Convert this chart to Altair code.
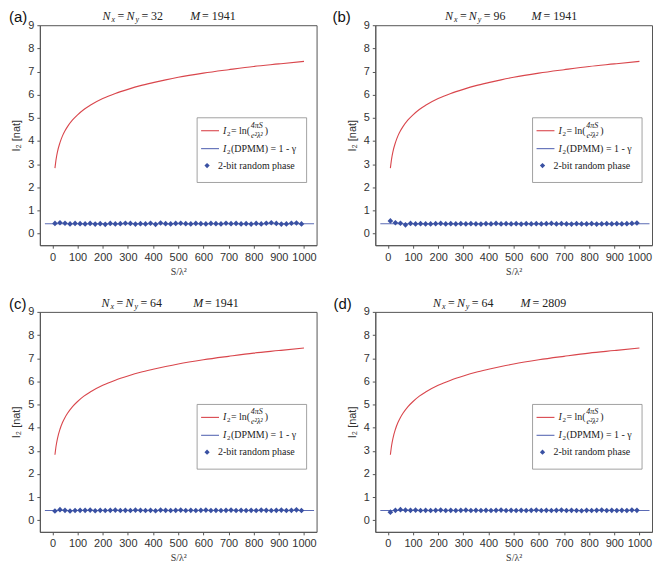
import altair as alt
import pandas as pd

# ---------------- data ----------------
S_CURVE = [10, 15, 20, 30, 40, 50, 60, 80, 100, 125, 150, 200, 250, 300, 350,
           400, 450, 500, 600, 700, 800, 900, 1000]
I2_CURVE = [2.83, 3.24, 3.53, 3.93, 4.22, 4.44, 4.62, 4.91, 5.13, 5.36, 5.54,
            5.83, 6.05, 6.23, 6.39, 6.52, 6.64, 6.75, 6.93, 7.08, 7.22, 7.33, 7.44]

DPMM_LEVEL = 0.4228
DPMM_SPAN = [-30, 1040]

S_PTS = list(range(10, 1000, 20))

PTS_A = [0.44, 0.47, 0.45, 0.42, 0.44, 0.43, 0.42, 0.44, 0.41, 0.43,
         0.40, 0.44, 0.42, 0.43, 0.45, 0.44, 0.41, 0.43, 0.42, 0.45,
         0.40, 0.46, 0.43, 0.42, 0.44, 0.45, 0.43, 0.42, 0.44, 0.43,
         0.42, 0.44, 0.43, 0.42, 0.45, 0.43, 0.44, 0.42, 0.43, 0.41,
         0.44, 0.42, 0.45, 0.47, 0.44, 0.41, 0.42, 0.45, 0.46, 0.42]
PTS_B = [0.55, 0.47, 0.45, 0.38, 0.44, 0.42, 0.43, 0.42, 0.42, 0.43,
         0.44, 0.42, 0.43, 0.42, 0.43, 0.42, 0.43, 0.42, 0.41, 0.43,
         0.42, 0.44, 0.42, 0.43, 0.42, 0.43, 0.41, 0.43, 0.42, 0.43,
         0.42, 0.43, 0.44, 0.42, 0.43, 0.42, 0.41, 0.43, 0.42, 0.42,
         0.43, 0.41, 0.42, 0.43, 0.42, 0.43, 0.42, 0.43, 0.44, 0.46]
PTS_C = [0.40, 0.46, 0.43, 0.40, 0.42, 0.43, 0.43, 0.44, 0.41, 0.43,
         0.42, 0.43, 0.44, 0.42, 0.43, 0.42, 0.44, 0.43, 0.42, 0.43,
         0.41, 0.44, 0.43, 0.42, 0.43, 0.44, 0.42, 0.43, 0.42, 0.43,
         0.44, 0.42, 0.43, 0.42, 0.43, 0.44, 0.42, 0.43, 0.42, 0.43,
         0.42, 0.44, 0.43, 0.42, 0.43, 0.44, 0.42, 0.43, 0.45, 0.42]
PTS_D = [0.35, 0.43, 0.46, 0.44, 0.43, 0.44, 0.42, 0.43, 0.42, 0.43,
         0.44, 0.42, 0.43, 0.42, 0.43, 0.44, 0.42, 0.43, 0.42, 0.43,
         0.42, 0.43, 0.44, 0.42, 0.43, 0.42, 0.43, 0.42, 0.43, 0.44,
         0.42, 0.43, 0.42, 0.43, 0.44, 0.42, 0.43, 0.42, 0.41, 0.43,
         0.42, 0.43, 0.44, 0.42, 0.43, 0.42, 0.43, 0.42, 0.44, 0.43]

PANEL_LABELS = ["(a)", "(b)", "(c)", "(d)"]
NXY = ["32", "96", "64", "64"]
M_VALUES = ["1941", "1941", "1941", "2809"]
POINTS = [PTS_A, PTS_B, PTS_C, PTS_D]

X_TICKS = list(range(0, 1001, 100))
Y_TICKS = list(range(0, 10))

# ---------------- style ----------------
W, H = 278, 221
RED = "#d9464c"
LINE_BLUE = "#5b6bb5"
PT_BLUE = "#3a51a3"
SERIF = "Liberation Serif"
SANS = "Liberation Sans"

TITLE_X = [63, 70, 62, 58]
M_X = [151, 157, 154, 146]
LABEL_X = [-31, -43, -31, -42]

ONE = pd.DataFrame({"a": [0]})


def txt(items, align="left", **props):
    layers = []
    for px, py, t in items:
        layers.append(
            alt.Chart(ONE).mark_text(align=align, baseline="middle", text=t, **props)
            .encode(x=alt.value(px), y=alt.value(py))
        )
    return layers


def panel(i):
    xs = alt.Scale(domain=[-50, 1050], nice=False, zero=False)
    ys = alt.Scale(domain=[-0.5, 9], nice=False, zero=False)
    xax = alt.Axis(values=X_TICKS, format="d", title="S/λ²", titleFont=SERIF,
                   titleFontSize=10, titleFontWeight="normal", titlePadding=4,
                   labelPadding=3, labelOverlap=False)
    yax = alt.Axis(values=Y_TICKS, format="d", title="I₂ [nat]", titleFont=SANS,
                   titleFontSize=11, titleFontWeight="normal", titlePadding=6,
                   labelPadding=3, labelOverlap=False)

    X = alt.X("S:Q", scale=xs, axis=xax)
    Y = alt.Y("I2:Q", scale=ys, axis=yax)

    curve = alt.Chart(pd.DataFrame({"S": S_CURVE, "I2": I2_CURVE})).mark_line(
        color=RED, strokeWidth=1.1, interpolate="monotone"
    ).encode(x=X, y=Y)

    rule = alt.Chart(pd.DataFrame({"S": [DPMM_SPAN[0]], "S2": [DPMM_SPAN[1]],
                                   "I2": [DPMM_LEVEL]})).mark_rule(
        color=LINE_BLUE, strokeWidth=1.1
    ).encode(x=X, x2="S2:Q", y=Y)

    pts = alt.Chart(pd.DataFrame({"S": S_PTS, "I2": POINTS[i]})).mark_point(
        shape="diamond", filled=True, size=32, color=PT_BLUE, opacity=1
    ).encode(x=X, y=Y)

    # legend
    bx0, bx1, by0, by1 = 158, 268, 93, 158
    box = alt.Chart(ONE).mark_rect(
        fill="white", stroke="#8a8a8a", strokeWidth=0.8
    ).encode(x=alt.value(bx0), x2=alt.value(bx1), y=alt.value(by0), y2=alt.value(by1))
    r1, r2, r3 = 106, 124, 141
    red_s = alt.Chart(ONE).mark_rule(color=RED, strokeWidth=1.1).encode(
        x=alt.value(bx0 + 4), x2=alt.value(bx0 + 22), y=alt.value(r1))
    blue_s = alt.Chart(ONE).mark_rule(color=LINE_BLUE, strokeWidth=1.1).encode(
        x=alt.value(bx0 + 4), x2=alt.value(bx0 + 22), y=alt.value(r2))
    dia_s = alt.Chart(ONE).mark_point(
        shape="diamond", filled=True, size=28, color=PT_BLUE, opacity=1
    ).encode(x=alt.value(bx0 + 10), y=alt.value(r3))
    lx = bx0 + 26
    texts = []
    texts += txt([(lx, r1, "I"), (lx, r2, "I")], font=SERIF, fontSize=10,
                 fontStyle="italic", color="#222")
    texts += txt([(lx + 4, r1 + 3, "2"), (lx + 4, r2 + 3, "2")], font=SERIF,
                 fontSize=7, color="#222")
    texts += txt([(lx + 8, r1, "= ln("), (lx + 42, r1, ")"),
                  (lx + 8, r2, "(DPMM) = 1 - γ"),
                  (bx0 + 21, r3, "2-bit random phase")],
                 font=SERIF, fontSize=10, color="#222")
    texts += txt([(lx + 34, r1 - 5, "4πS"), (lx + 34, r1 + 5, "e²λ²")],
                 align="center", font=SERIF, fontSize=8, fontStyle="italic", color="#222")

    # title
    tx, mx, ty = TITLE_X[i], M_X[i], -9
    texts += txt([(tx, ty, "N"), (tx + 24, ty, "N"), (mx, ty, "M")], font=SERIF,
                 fontSize=12, fontStyle="italic", color="#222")
    texts += txt([(tx + 9, ty + 4, "x"), (tx + 33, ty + 4, "y")], font=SERIF,
                 fontSize=8, fontStyle="italic", color="#222")
    texts += txt([(tx + 15, ty, "="), (tx + 39, ty, "= " + NXY[i]),
                  (mx + 12, ty, "= " + M_VALUES[i])],
                 font=SERIF, fontSize=12, color="#222")
    texts += txt([(LABEL_X[i], -8, PANEL_LABELS[i])], font=SANS, fontSize=15, color="#111")

    return alt.layer(curve, rule, pts, box, red_s, blue_s, dia_s, *texts).properties(
        width=W, height=H)


top = alt.hconcat(panel(0), panel(1), spacing=59, bounds="flush")
bottom = alt.hconcat(panel(2), panel(3), spacing=59, bounds="flush")
chart = alt.vconcat(top, bottom, spacing=19).properties(
    padding={"left": 0, "top": 0, "right": 0, "bottom": 0}
).configure_view(stroke="#555", strokeWidth=1).configure_axis(
    grid=False, domainColor="#555", tickColor="#555", tickSize=3,
    labelFont=SANS, labelFontSize=11, labelColor="#333", titleColor="#333"
)

chart.save("out.html", embed_options={"renderer": "svg", "actions": False})
